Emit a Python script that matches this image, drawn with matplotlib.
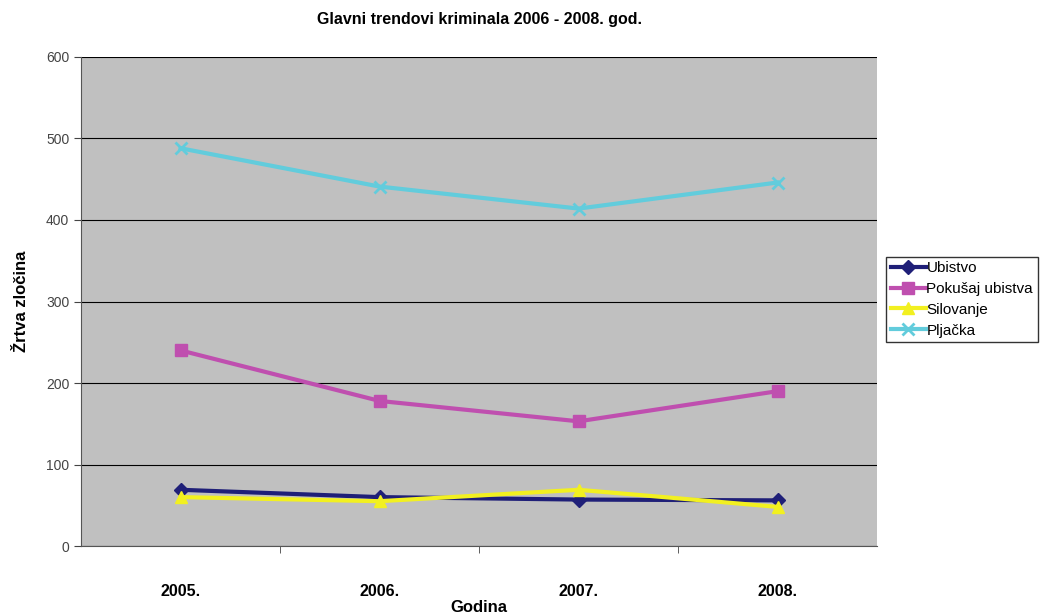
import matplotlib
matplotlib.use("Agg")
import matplotlib.pyplot as plt

godine = ["2005.", "2006.", "2007.", "2008."]
ubistvo = [69, 60, 57, 56]
pokusaj = [240, 178, 153, 190]
silovanje = [60, 55, 69, 48]
pljacka = [488, 441, 414, 446]

plt.rcParams['font.family'] = ['Liberation Sans', 'DejaVu Sans']

def main() :
	fig = plt.figure(figsize=(10.43, 6.16), dpi=100)
	ax = fig.add_axes([0.0777, 0.1136, 0.7633, 0.7939])
	ax.set_facecolor("#C0C0C0")

	x = list(range(len(godine)))
	ax.plot(x, ubistvo, color="#1F1F78", lw=3, marker="D", ms=7, label="Ubistvo", zorder=3)
	ax.plot(x, pokusaj, color="#BF4FAF", lw=3, marker="s", ms=9, label="Pokušaj ubistva", zorder=3)
	ax.plot(x, silovanje, color="#F2F020", lw=3, marker="^", ms=9, label="Silovanje", zorder=4)
	ax.plot(x, pljacka, color="#62CCDC", lw=3, marker="x", ms=9, mew=2, label="Pljačka", zorder=3)

	ax.set_xlim(-0.5, 3.5)
	ax.set_ylim(0, 600)
	ax.set_yticks(range(0, 601, 100))
	ax.yaxis.grid(True, color="black", lw=0.8)
	ax.set_axisbelow(True)

	ax.set_xticks(x)
	ax.set_xticklabels(godine, fontsize=11.5, fontweight="bold")
	ax.tick_params(axis="x", length=0, pad=27)
	ax.set_xticks([0.5, 1.5, 2.5], minor=True)
	ax.tick_params(axis="x", which="minor", length=5, color="#444444")
	ax.tick_params(axis="y", labelsize=10, labelcolor="#444444", length=5, color="#444444")

	for s in ["top", "right"] :
		ax.spines[s].set_visible(False)
	ax.spines["left"].set_color("#555555")
	ax.spines["bottom"].set_color("#555555")

	ax.set_title("Glavni trendovi kriminala 2006 - 2008. god.", fontsize=11.5, fontweight="bold", pad=24)
	ax.set_xlabel("Godina", fontsize=12, fontweight="bold", labelpad=1)
	ax.set_ylabel("Žrtva zločina", fontsize=12, fontweight="bold", labelpad=12)

	leg = ax.legend(loc="upper left", bbox_to_anchor=(1.011, 0.592), fontsize=11, frameon=True,
		fancybox=False, edgecolor="black", handlelength=2.3, handletextpad=0.05,
		borderpad=0.3, labelspacing=0.45, borderaxespad=0)
	leg.get_frame().set_linewidth(1.0)

	plt.savefig("out.png", dpi=100)


if __name__ == "__main__" :
	main()
